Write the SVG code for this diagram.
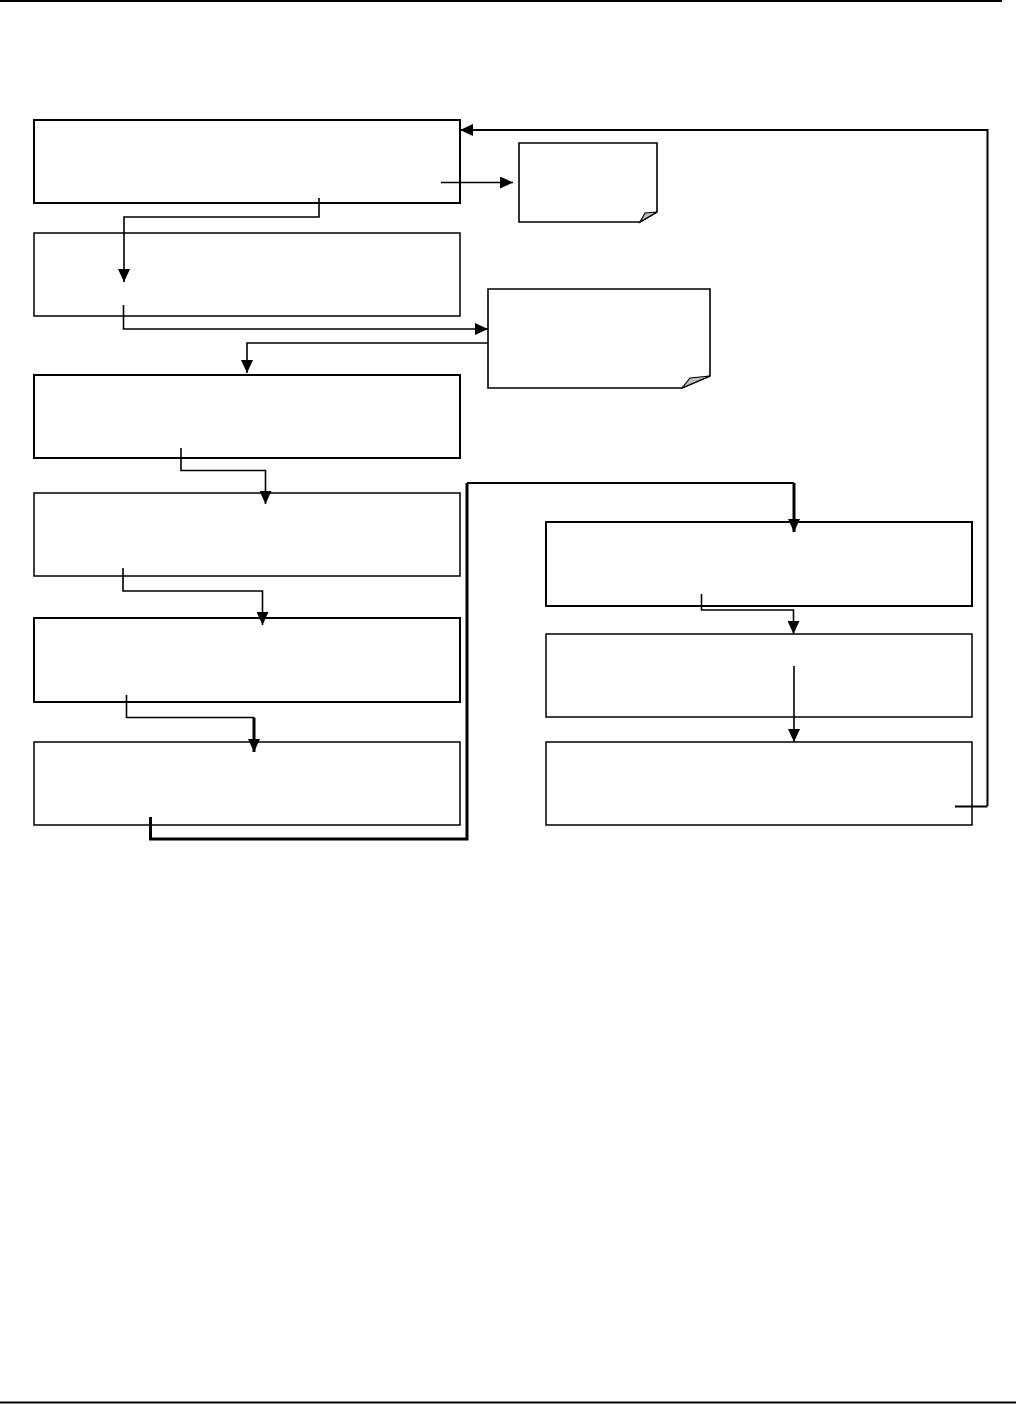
<svg xmlns="http://www.w3.org/2000/svg" width="1016" height="1404" viewBox="0 0 1016 1404">
<style>
.box{fill:#fff;stroke:#000;stroke-width:1.5}
.bold{stroke-width:2}
.note{fill:#fff;stroke:#000;stroke-width:1.6}
.fold{fill:#bdbdbd;stroke:#000;stroke-width:1.2}
.c{fill:none;stroke:#000;stroke-width:1.6}
.cm{fill:none;stroke:#000;stroke-width:2}
.ct{fill:none;stroke:#000;stroke-width:3}
.rule{stroke:#000;stroke-width:2}
</style>
<defs>
<marker id="ah" markerUnits="userSpaceOnUse" markerWidth="14" markerHeight="12" refX="13" refY="6" orient="auto">
<path d="M0,0 L13,6 L0,12 z" fill="#000"/>
</marker>
</defs>
<rect width="1016" height="1404" fill="#fff"/>
<line class="rule" x1="0" y1="1" x2="1002" y2="1"/>
<line class="rule" x1="0" y1="1402.5" x2="1016" y2="1402.5"/>
<g id="n1"><rect class="box bold" x="34" y="120" width="426" height="83"/></g>
<g id="n2"><rect class="box" x="34" y="233" width="426" height="83"/></g>
<g id="n3"><rect class="box bold" x="34" y="375" width="426" height="83"/></g>
<g id="n4"><rect class="box" x="34" y="493" width="426" height="83"/></g>
<g id="n5"><rect class="box bold" x="34" y="618" width="426" height="84"/></g>
<g id="n6"><rect class="box" x="34" y="742" width="426" height="83"/></g>
<g id="n7"><rect class="box bold" x="546" y="522" width="426" height="84"/></g>
<g id="n8"><rect class="box" x="546" y="634" width="426" height="83"/></g>
<g id="n9"><rect class="box" x="546" y="742" width="426" height="83"/></g>
<g id="note1"><path class="note" d="M519,143 H657 V212 L640,222 H519 Z"/><path class="fold" d="M640,222 L645,213 L657,212 Z"/></g>
<g id="note2"><path class="note" d="M488,289 H710 V376 L682,388 H488 Z"/><path class="fold" d="M682,388 L690,378 L710,376 Z"/></g>
<g id="connectors">
<path class="cm" d="M987.5,806 V130 H460" marker-end="url(#ah)"/>
<path class="cm" d="M955,806.5 H987.5"/>
<path class="c" d="M441,182.5 H513" marker-end="url(#ah)"/>
<path class="c" d="M319,198 V217 H124 V282" marker-end="url(#ah)"/>
<path class="c" d="M123.5,305 V329 H488" marker-end="url(#ah)"/>
<path class="c" d="M488,343 H247 V373" marker-end="url(#ah)"/>
<path class="c" d="M181,448 V470.5 H265.5 V504" marker-end="url(#ah)"/>
<path class="c" d="M123,568 V591 H262.5 V625" marker-end="url(#ah)"/>
<path class="c" d="M126.5,695 V717.5 H254" />
<path class="ct" d="M254,717.5 V752" marker-end="url(#ah)"/>
<path class="ct" d="M150.5,817 V839 H467 V483"/>
<path class="cm" d="M467,483 H794"/>
<path class="ct" d="M794,483 V532" marker-end="url(#ah)"/>
<path class="c" d="M701.5,594 V610 H793.5 V634" marker-end="url(#ah)"/>
<path class="c" d="M794,666 V742" marker-end="url(#ah)"/>
</g>
</svg>
